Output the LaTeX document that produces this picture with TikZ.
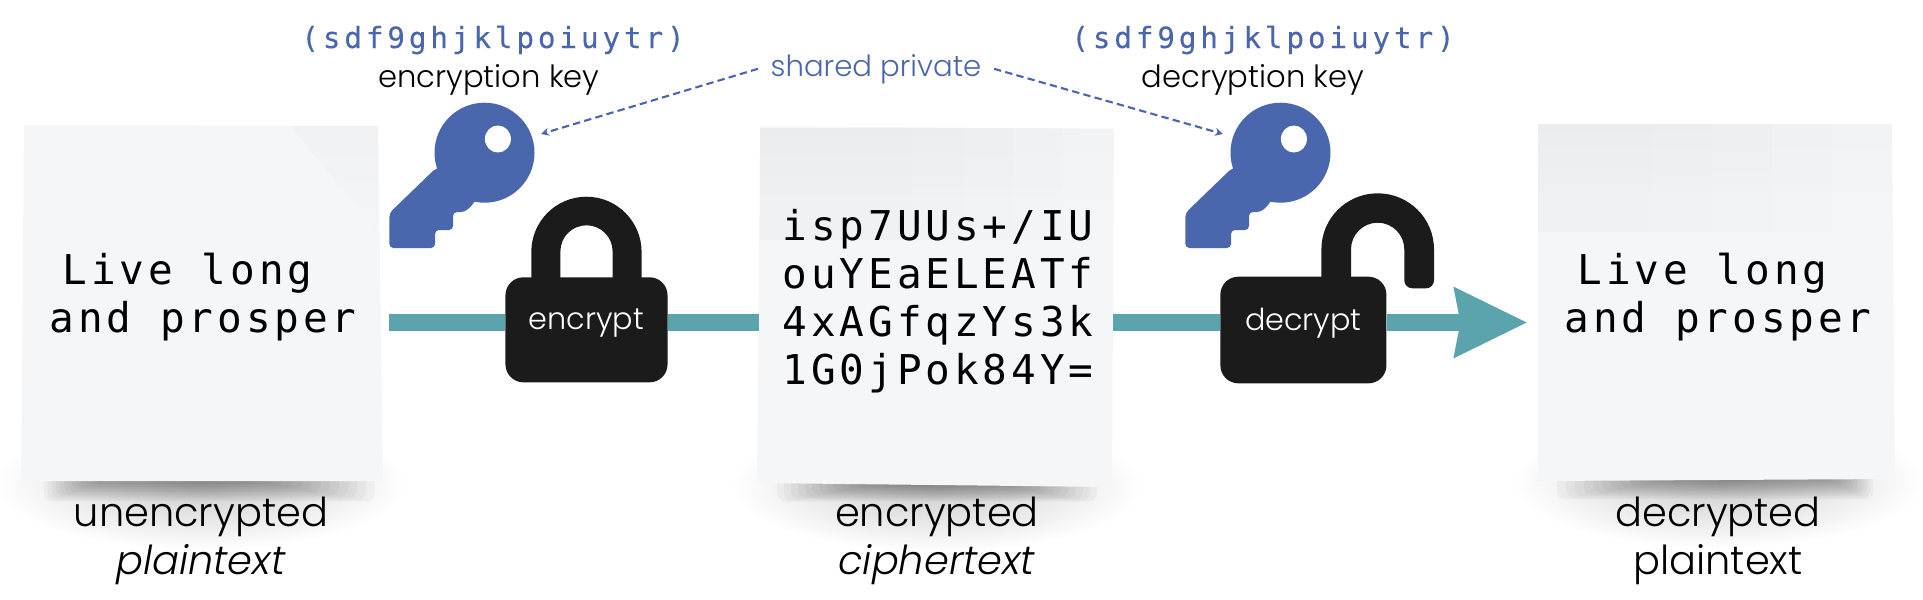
\documentclass[tikz,border=0pt]{standalone}
\usepackage{fontspec}
\usepackage{xcolor}
\usetikzlibrary{arrows.meta,fadings}
\setmainfont{Poppins Light}[ItalicFont={Poppins Light Italic}]
\newfontfamily\ocrfont{DejaVu Sans Mono}[LetterSpace=9.5]
\newfontfamily\ocrkeyfont{DejaVu Sans Mono}[LetterSpace=13.5,FakeBold=0.25]
\definecolor{keyblue}{HTML}{4A66AC}
\definecolor{barteal}{HTML}{5BA3AD}
\definecolor{lockblack}{HTML}{1B1B1B}
\definecolor{sheetgray}{HTML}{F5F6F8}
\definecolor{foldgray}{HTML}{E9EAEC}
\tikzfading[name=softdrop,inner color=transparent!0,outer color=transparent!100]
\tikzfading[name=fadedown,top color=transparent!0,bottom color=transparent!100]
\tikzset{
  sheet/.style={fill=sheetgray},
  cipher/.style={font=\ocrfont\fontsize{11.67pt}{13.66pt}\selectfont,align=left,anchor=west,inner sep=0pt},
  keytext/.style={font=\ocrkeyfont\fontsize{8.3pt}{10pt}\selectfont,text=keyblue,anchor=base,inner sep=0pt},
  caption/.style={font=\fontsize{11.35pt}{13.66pt}\selectfont,align=center,text=black,inner sep=0pt},
  keycaption/.style={font=\fontsize{8.7pt}{10pt}\selectfont,anchor=base,text=black,inner sep=0pt},
  lockbody/.style={fill=lockblack,rounded corners=0.18cm,inner sep=0pt},
  locktext/.style={font=\fontsize{8.6pt}{10pt}\selectfont,text=white,anchor=base,inner sep=0pt},
  bar/.style={barteal,line width=0.164cm,line cap=butt},
  keylink/.style={keyblue,line width=0.6pt,dash pattern=on 2.1pt off 1.2pt,-{Stealth[length=0.08cm,width=0.08cm]}}
}
\begin{document}
\begin{tikzpicture}[
   x=0.01cm,
   y=-0.01cm,
   line join=round
 ]
   \useasboundingbox (0,0) rectangle (1923,599);

   % Soft drop shadows below the three sheets.
   \fill[black,opacity=0.20,path fading=softdrop] (201,484) ellipse (205 and 66);
   \fill[black,opacity=0.20,path fading=softdrop] (937,486) ellipse (205 and 66);
   \fill[black,opacity=0.20,path fading=softdrop] (1718,482) ellipse (205 and 66);
   \foreach \i in {1,...,14} {
     \fill[black,opacity=0.032,rounded corners=0.08cm] (40+\i*4,470) rectangle (384-\i*9,478+25-\i*1.6);
     \fill[black,opacity=0.032,rounded corners=0.08cm] (770+\i*7,470) rectangle (1104-\i*7,483+20-\i*1.3);
     \fill[black,opacity=0.032,rounded corners=0.08cm] (1548+\i*9,470) rectangle (1876-\i*3,476+25-\i*1.6);
   }

   % The sheets, a little out of square.
   \fill[sheet] (24,125) -- (378,126) -- (383,481) -- (21,481) -- cycle;
   \fill[sheet] (760,126) -- (1114,129) -- (1112,487) -- (757,483) -- cycle;
   \fill[sheet] (1538,124) -- (1892,124) -- (1895,479) -- (1538,481) -- cycle;

   % Folds and faint bands on the paper, stepped towards the right.
   \fill[foldgray,opacity=0.35,path fading=fadedown] (290,126) -- (378,126) -- (378,232) -- cycle;
   \foreach \i in {0,...,4} {
     \fill[foldgray,opacity=0.22,path fading=fadedown] (760,128) rectangle (1113-\i*50,240);
     \fill[foldgray,opacity=0.22,path fading=fadedown] (1538,124) rectangle (1892-\i*60,232);
   }

   % Key text above both keys.
   \node[keytext] (keyleft) at (493,48) {(sdf9ghjklpoiuytr)};
   \node[keytext] (keyright) at (1263,48) {(sdf9ghjklpoiuytr)};
   \node[keycaption] (enccaption) at (489,87) {encryption key};
   \node[keycaption] (deccaption) at (1253,87) {decryption key};
   \node[font=\fontsize{8.3pt}{10pt}\selectfont,text=keyblue,anchor=base,inner xsep=0.12cm,inner ysep=0pt] (shared) at (876,76) {shared private};

   % One key shape, used twice.
   \foreach \keyx in {0,796} {
     \begin{scope}[shift={(\keyx,0)}]
       \fill[keyblue,rounded corners=0.04cm] (436,168) -- (389.4,213) -- (389.4,248) -- (435,248) -- (435,230)
         -- (453,230) -- (453,212) -- (465,212) -- (475,202) -- (484,170) -- cycle;
       \fill[keyblue] (484.5,152.7) ellipse (50 and 50);
       \fill[white] (497.9,139) ellipse (13 and 13.5);
     \end{scope}
   }
   \coordinate (enctarget) at (541,134);
   \coordinate (dectarget) at (1223,134);
   \draw[keylink] (shared.west) -- (enctarget);
   \draw[keylink] (shared.east) -- (dectarget);

   % Lock bodies come first, the bar runs up to their edges.
   \node[lockbody,minimum width=1.62cm,minimum height=1.05cm] (encrypt) at (586.5,329.8) {};
   \node[lockbody,minimum width=1.66cm,minimum height=1.066cm] (decrypt) at (1303.4,330) {};
   \coordinate (barstart) at (389.4,322.5);
   \coordinate (cipherleft) at (758.6,322.5);
   \coordinate (cipherright) at (1113,322.5);
   \coordinate (arrowtip) at (1527.5,322.5);
   \draw[bar] (barstart) -- (barstart -| encrypt.west);
   \draw[bar] (cipherleft -| encrypt.east) -- (cipherleft);
   \draw[bar] (cipherright) -- (cipherright -| decrypt.west);
   \draw[bar,-{Stealth[length=0.72cm,width=0.67cm,inset=0.05cm]}] (arrowtip -| decrypt.east) -- (arrowtip);

   % Shackles, closed and open.
   \fill[lockblack] (531.3,285) -- (531.3,252) arc[start angle=180,end angle=360,x radius=55.15,y radius=55.3]
     -- (641.6,285) -- (612.6,285) -- (612.6,251.3) arc[start angle=360,end angle=180,x radius=26.1,y radius=26]
     -- (560.4,285) -- cycle;
   \fill[lockblack] (1321.4,285) -- (1321.4,249.3) arc[start angle=180,end angle=360,x radius=56.3,y radius=56]
     -- (1434,280.3) arc[start angle=0,end angle=90,radius=8] -- (1412.3,288.3)
     arc[start angle=90,end angle=180,radius=8] -- (1404.3,249.3)
     arc[start angle=360,end angle=180,x radius=26.65,y radius=26.6] -- (1351,285) -- cycle;
   \node[locktext] (encrypttext) at (586.5,329) {encrypt};
   \node[locktext] (decrypttext) at (1303.4,330) {decrypt};

   % Text on the sheets.
   \node[cipher] (plainmsg) at (49,297) {\hspace*{0.13cm}Live long\\and prosper};
   \node[cipher] (ciphermsg) at (782,301) {isp7UUs+/IU\\ouYEaELEATf\\4xAGfqzYs3k\\1G0jPok84Y=};
   \node[cipher] (clearmsg) at (1564,297) {\hspace*{0.13cm}Live long\\and prosper};

   % Captions under the sheets.
   \node[caption] (plaincaption) at (201,541) {unencrypted\\\textit{plaintext}};
   \node[caption] (ciphercaption) at (937,541) {encrypted\\\textit{ciphertext}};
   \node[caption] (clearcaption) at (1718,541) {decrypted\\plaintext};
 \end{tikzpicture}
\end{document}
